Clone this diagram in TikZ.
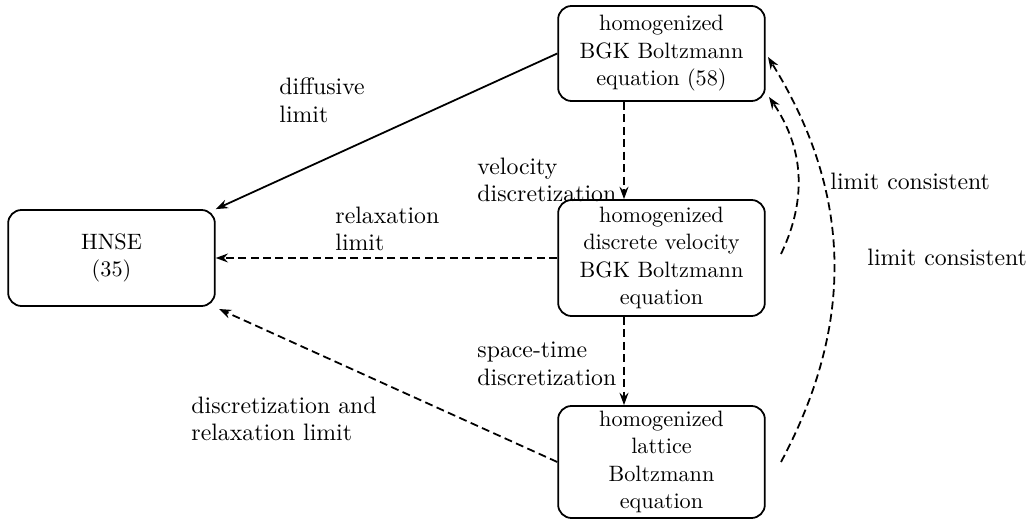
\documentclass[tikz,border=0pt]{standalone}
\usetikzlibrary{arrows.meta,calc}
\begin{document}
\begin{tikzpicture}[x=0.45pt,y=-0.45pt,
  box/.style={draw,thick,rounded corners=6pt,minimum width=93pt,align=center,inner sep=2pt,font=\fontsize{10}{12.4}\selectfont},
  lbl/.style={align=left,inner sep=0pt,anchor=west,font=\fontsize{10.7}{12.4}\selectfont},
  conn/.style={thick,-{Stealth[length=5.5pt,width=4pt,inset=1.8pt]}},
  dsh/.style={conn,dash pattern=on 3.6pt off 2pt}]
\useasboundingbox (0,0) rectangle (1030,521);
\node[box,minimum height=42.75pt] (top) at (661.5,53.5) {homogenized\\BGK Boltzmann\\equation (58)};
\node[box,minimum height=52.2pt] (mid) at (661.5,258) {homogenized\\discrete velocity\\BGK Boltzmann\\equation};
\node[box,minimum height=50.4pt] (bot) at (661.5,462) {homogenized\\lattice\\Boltzmann\\equation};
\node[box,minimum height=43.2pt] (hnse) at (111.5,258) {HNSE\\(35)};
\coordinate (v) at (624,0);
\coordinate (c1s) at (781,254);
\coordinate (c1e) at (769,97);
\coordinate (c2s) at (781,462);
\coordinate (c2e) at (768,57);
\coordinate (h4) at (219,309);
\draw[conn] (top.west) -- (hnse.north east);
\draw[dsh] (top.south -| v) -- (mid.north -| v);
\draw[dsh] (mid.south -| v) -- (bot.north -| v);
\draw[dsh] (mid.west) -- (mid.west -| hnse.east);
\draw[dsh] (bot.west) -- (h4);
\draw[dsh] (c1s) to[bend right=30] (c1e);
\draw[dsh] (c2s) to[bend right=30] (c2e);
\node[lbl] (l1) at (279,100) {diffusive\\limit};
\node[lbl] (l2) at (477,180) {velocity\\discretization};
\node[lbl] (l3) at (335,229) {relaxation\\limit};
\node[lbl] (l4) at (477,364) {space-time\\discretization};
\node[lbl] (l5) at (191,419) {discretization and\\relaxation limit};
\node[lbl] (l6) at (830,181) {limit consistent};
\node[lbl] (l7) at (867,257) {limit consistent};
\end{tikzpicture}
\end{document}
